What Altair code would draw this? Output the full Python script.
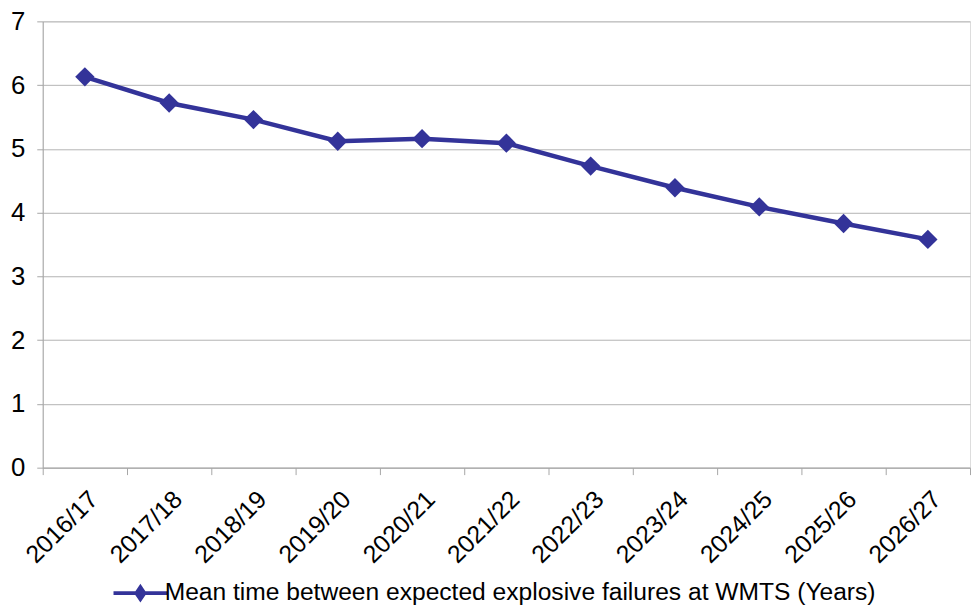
import altair as alt
import pandas as pd

years = ["2016/17", "2017/18", "2018/19", "2019/20", "2020/21", "2021/22",
         "2022/23", "2023/24", "2024/25", "2025/26", "2026/27"]
values = [6.13, 5.72, 5.46, 5.12, 5.16, 5.09, 4.73, 4.39, 4.09, 3.83, 3.58]
series_name = "Mean time between expected explosive failures at WMTS (Years)"

df = pd.DataFrame({"year": years, "value": values, "series": series_name})

color = "#333399"
font = "Liberation Sans"

base = alt.Chart(df).encode(
    x=alt.X("year:N", sort=years, title=None,
            scale=alt.Scale(paddingInner=0, paddingOuter=0),
            axis=alt.Axis(labelAngle=-45, labelFontSize=25, labelColor="#000000",
                          labelFont=font, domainColor="#a6a6a6", tickColor="#a6a6a6",
                          tickBand="extent", tickSize=7, labelPadding=12, grid=False,
                          labelOverlap=False)),
    y=alt.Y("value:Q", title=None,
            scale=alt.Scale(domain=[0, 7], nice=False),
            axis=alt.Axis(values=[0, 1, 2, 3, 4, 5, 6, 7], labelFontSize=26,
                          labelColor="#000000", labelFont=font, domainColor="#a6a6a6",
                          tickColor="#a6a6a6", tickSize=6, labelPadding=12,
                          gridColor="#b3b3b3", gridWidth=1)),
    color=alt.Color("series:N", scale=alt.Scale(range=[color]), title=None,
                    legend=alt.Legend(orient="none", legendX=83, legendY=561,
                                      labelFontSize=24.8, labelFont=font, labelColor="#000000",
                                      symbolType="M-2.05,0H2.05M0,-0.45L0.3,0L0,0.45L-0.3,0Z",
                                      symbolSize=700, symbolStrokeWidth=4,
                                      symbolFillColor=color, symbolStrokeColor=color,
                                      labelLimit=900, labelOffset=9)),
)

line = base.mark_line(strokeWidth=4.5)
pts = base.mark_point(shape="diamond", filled=True, size=380, opacity=1)

chart = (line + pts).properties(
    width=935, height=450,
    autosize=alt.AutoSizeParams(type="none"),
    padding={"left": 35, "top": 11, "right": 2, "bottom": 138},
).configure_view(stroke=None).configure(background="#ffffff")

chart.save("out.html", embed_options={"renderer": "svg", "actions": False})
